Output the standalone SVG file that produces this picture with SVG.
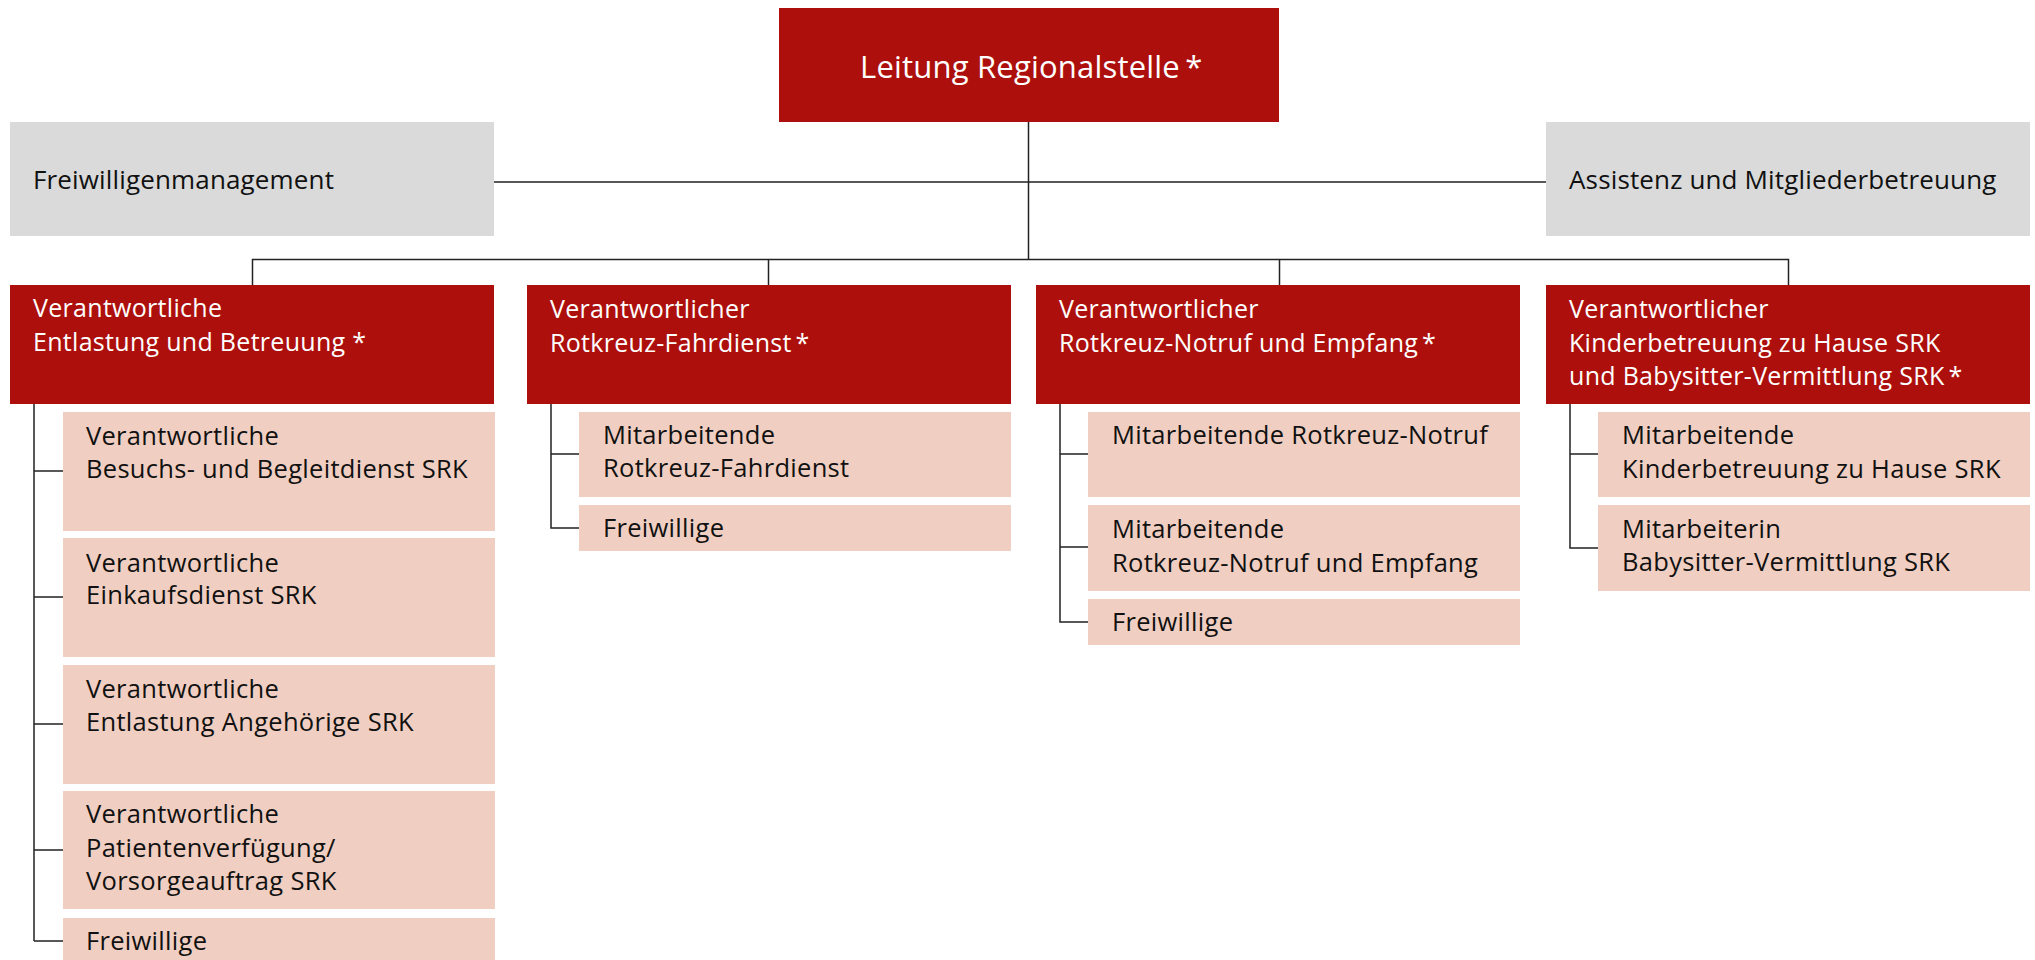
<svg xmlns="http://www.w3.org/2000/svg" width="2035" height="960" viewBox="0 0 2035 960">
<style>
.red{fill:#ad100c}
.grey{fill:#dadada}
.pink{fill:#f0cfc2}
text{font-family:"Open Sans","Noto Sans","Liberation Sans",sans-serif;font-size:25.5px;letter-spacing:0.3px}
.l2{font-size:25px;letter-spacing:0.3px}
.w{fill:#ffffff}
.k{fill:#111111}
.conn{stroke:#222222;stroke-width:1.5;fill:none}
</style>
<rect width="2035" height="960" fill="#ffffff"/>
<g id="connectors">
<path class="conn" d="M1028.5,122V259.5M494,182H1546M252.5,285V259.5H1788.5V285M768.5,259.5V285M1279.5,259.5V285"/>
<path class="conn" d="M34,404V941M34,471H63M34,597H63M34,724H63M34,850H63M34,941H63"/>
<path class="conn" d="M551,404V528H579M551,454H579"/>
<path class="conn" d="M1060,404V622H1088M1060,454H1088M1060,547H1088"/>
<path class="conn" d="M1570,404V548H1598M1570,454H1598"/>
</g>
<g id="leitung">
<rect class="red" x="779" y="8" width="500" height="114"/>
<text class="w" x="860" y="78" style="font-size:31px;letter-spacing:0.2px">Leitung Regionalstelle <tspan dx="-3">*</tspan></text>
</g>
<g id="freiwilligenmanagement">
<rect class="grey" x="10" y="122" width="484" height="114"/>
<text class="k" x="33" y="189" style="font-size:26px;letter-spacing:0.15px">Freiwilligenmanagement</text>
</g>
<g id="assistenz">
<rect class="grey" x="1546" y="122" width="484" height="114"/>
<text class="k" x="1569" y="189" style="font-size:26px;letter-spacing:0.15px">Assistenz und Mitgliederbetreuung</text>
</g>
<g id="entlastung">
<rect class="red" x="10" y="285" width="484" height="119"/>
<text class="w l2" x="33" y="317">Verantwortliche</text>
<text class="w l2" x="33" y="351">Entlastung und Betreuung *</text>
</g>
<g id="fahrdienst">
<rect class="red" x="527" y="285" width="484" height="119"/>
<text class="w l2" x="550" y="318">Verantwortlicher</text>
<text class="w l2" x="550" y="352">Rotkreuz-Fahrdienst <tspan dx="-3">*</tspan></text>
</g>
<g id="notruf">
<rect class="red" x="1036" y="285" width="484" height="119"/>
<text class="w l2" x="1059" y="318">Verantwortlicher</text>
<text class="w l2" x="1059" y="352">Rotkreuz-Notruf und Empfang <tspan dx="-3">*</tspan></text>
</g>
<g id="kinderbetreuung">
<rect class="red" x="1546" y="285" width="484" height="119"/>
<text class="w l2" x="1569" y="318">Verantwortlicher</text>
<text class="w l2" x="1569" y="352">Kinderbetreuung zu Hause SRK</text>
<text class="w l2" x="1569" y="385">und Babysitter-Vermittlung SRK <tspan dx="-3">*</tspan></text>
</g>
<g id="besuchsdienst">
<rect class="pink" x="63" y="412" width="432" height="119"/>
<text class="k" x="86" y="445">Verantwortliche</text>
<text class="k" x="86" y="478">Besuchs- und Begleitdienst SRK</text>
</g>
<g id="einkaufsdienst">
<rect class="pink" x="63" y="538" width="432" height="119"/>
<text class="k" x="86" y="572">Verantwortliche</text>
<text class="k" x="86" y="604">Einkaufsdienst SRK</text>
</g>
<g id="angehoerige">
<rect class="pink" x="63" y="665" width="432" height="119"/>
<text class="k" x="86" y="698">Verantwortliche</text>
<text class="k" x="86" y="731">Entlastung Angehörige SRK</text>
</g>
<g id="patientenverfuegung">
<rect class="pink" x="63" y="791" width="432" height="118"/>
<text class="k" x="86" y="823">Verantwortliche</text>
<text class="k" x="86" y="857">Patientenverfügung/</text>
<text class="k" x="86" y="890">Vorsorgeauftrag SRK</text>
</g>
<g id="freiwillige1">
<rect class="pink" x="63" y="918" width="432" height="46"/>
<text class="k" x="86" y="950">Freiwillige</text>
</g>
<g id="ma-fahrdienst">
<rect class="pink" x="579" y="412" width="432" height="85"/>
<text class="k" x="603" y="444">Mitarbeitende</text>
<text class="k" x="603" y="477">Rotkreuz-Fahrdienst</text>
</g>
<g id="freiwillige2">
<rect class="pink" x="579" y="505" width="432" height="46"/>
<text class="k" x="603" y="537">Freiwillige</text>
</g>
<g id="ma-notruf">
<rect class="pink" x="1088" y="412" width="432" height="85"/>
<text class="k" x="1112" y="444">Mitarbeitende Rotkreuz-Notruf</text>
</g>
<g id="ma-notruf-empfang">
<rect class="pink" x="1088" y="505" width="432" height="86"/>
<text class="k" x="1112" y="538">Mitarbeitende</text>
<text class="k" x="1112" y="572">Rotkreuz-Notruf und Empfang</text>
</g>
<g id="freiwillige3">
<rect class="pink" x="1088" y="599" width="432" height="46"/>
<text class="k" x="1112" y="631">Freiwillige</text>
</g>
<g id="ma-kinderbetreuung">
<rect class="pink" x="1598" y="412" width="432" height="85"/>
<text class="k" x="1622" y="444">Mitarbeitende</text>
<text class="k" x="1622" y="478">Kinderbetreuung zu Hause SRK</text>
</g>
<g id="ma-babysitter">
<rect class="pink" x="1598" y="505" width="432" height="86"/>
<text class="k" x="1622" y="538">Mitarbeiterin</text>
<text class="k" x="1622" y="571">Babysitter-Vermittlung SRK</text>
</g>
</svg>
